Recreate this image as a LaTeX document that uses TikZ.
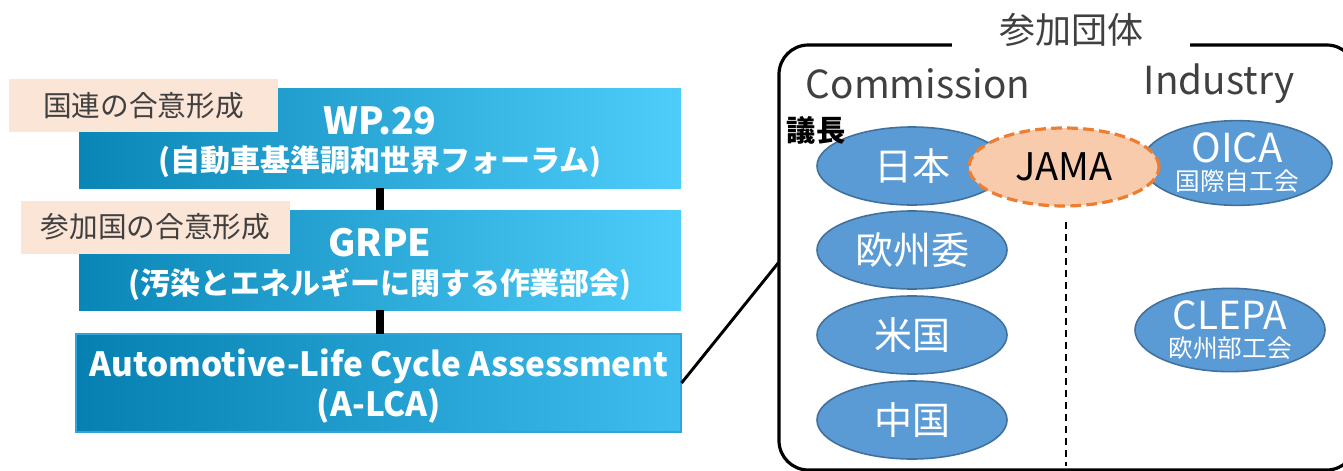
\documentclass[tikz,border=0pt]{standalone}
\usepackage{fontspec}
\setmainfont{Noto Sans CJK JP}
\usetikzlibrary{shapes.geometric}
\definecolor{peach}{HTML}{FBE5D6}
\definecolor{dgray}{HTML}{404040}
\definecolor{ellfill}{HTML}{5B9BD5}
\definecolor{elldraw}{HTML}{41719C}
\definecolor{jamafill}{HTML}{F8CBAD}
\definecolor{jamadraw}{HTML}{ED7D31}
\definecolor{boxL}{HTML}{0A86B6}
\definecolor{boxR}{HTML}{4ECDFA}
\definecolor{alcaL}{HTML}{0580B0}
\definecolor{alcaR}{HTML}{3EBDEE}
\definecolor{alcaB}{HTML}{2FA6DA}
\tikzset{
  bluebox/.style={rectangle, inner sep=0pt, minimum width=451.5pt, minimum height=75pt,
    left color=boxL, right color=boxR},
  boxtitle/.style={text=white, inner sep=0pt, font=\bfseries\fontsize{28}{30}\selectfont},
  boxsub/.style={text=white, inner sep=0pt, font=\bfseries\fontsize{22.5}{26}\selectfont},
  peachbox/.style={rectangle, inner sep=0pt, fill=peach, minimum width=201.75pt, minimum height=39.75pt,
    text=dgray, font=\fontsize{21.5}{25}\selectfont},
  blueell/.style={ellipse, inner sep=0pt, minimum width=142.5pt, minimum height=58.5pt,
    fill=ellfill, draw=elldraw, line width=1.2pt, text=white, align=center,
    font=\fontsize{28.5}{30}\selectfont},
  vlink/.style={line width=6.5pt},
}
\begin{document}
\begin{tikzpicture}[x=0.75pt,y=-0.75pt]
\useasboundingbox (0,0) rectangle (1343,471);
% left column
\node[bluebox] (wp) at (380,138) {};
\node[boxtitle] (wpA) at (380,121) {WP.29};
\node[boxsub] (wpB) at (380,162) {(自動車基準調和世界フォーラム)};
\node[bluebox] (grpe) at (380,260) {};
\node[boxtitle] (grpeA) at (380,243) {GRPE};
\node[boxsub] (grpeB) at (380,284) {(汚染とエネルギーに関する作業部会)};
\node[bluebox, minimum width=453.75pt, minimum height=73.5pt, left color=alcaL, right color=alcaR,
  draw=alcaB, line width=0.8pt] (alca) at (378.5,383) {};
\node[text=white, inner sep=0pt, font=\bfseries\fontsize{25}{28}\selectfont] (alcaA) at (379,366) {Automotive-Life Cycle Assessment};
\node[text=white, inner sep=0pt, font=\bfseries\fontsize{25}{28}\selectfont] (alcaB) at (379,406) {(A-LCA)};
\node[peachbox] (p1) at (143.5,105.5) {国連の合意形成};
\node[peachbox] (p2) at (155.5,227) {参加国の合意形成};
\coordinate (l1) at (380,188);
\coordinate (l2) at (380,210);
\coordinate (l3) at (380,310);
\coordinate (l4) at (380,334);
\draw[vlink] (l1) -- (l2);
\draw[vlink] (l3) -- (l4);
% right frame
\node[rectangle, draw=black, line width=2.4pt, rounded corners=22pt, minimum width=432.75pt, minimum height=318.75pt, inner sep=0pt] (frame) at (1067.5,257.5) {};
\node[rectangle, fill=white, minimum width=178.5pt, minimum height=30pt, inner sep=0pt, text=dgray,
  font=\fontsize{27}{30}\selectfont] (title) at (1071,30) {参加団体};
\coordinate (fl) at (779,262);
\draw[line width=2.2pt] (alca.east) -- (fl);
\node[text=dgray, font=\fontsize{29}{32}\selectfont] (comm) at (918,84) {Commission};
\node[text=dgray, font=\fontsize{29}{32}\selectfont] (ind) at (1219,84) {Industry};
\coordinate (d1) at (1066,222);
\coordinate (d2) at (1066,466);
\draw[line width=1.3pt, dash pattern=on 5pt off 4pt] (d1) -- (d2);
\node[blueell] (jp) at (912,166) {日本};
\node[blueell] (oica) at (1237,163) {{\fontsize{30}{32}\selectfont OICA}\\[-9pt]{\fontsize{18.5}{20}\selectfont 国際自工会}};
\node[blueell, fill=jamafill, draw=jamadraw, line width=2.4pt, dash pattern=on 8pt off 4pt, text=black] (jama) at (1064,167) {JAMA};
\node[font=\bfseries\fontsize{22}{24}\selectfont, text=black, inner sep=0pt] (chair) at (816,130) {議長};
\node[blueell] (eu) at (912,250) {欧州委};
\node[blueell] (us) at (912,335) {米国};
\node[blueell] (cn) at (912,420) {中国};
\node[blueell] (clepa) at (1230,330) {{\fontsize{29}{32}\selectfont CLEPA}\\[-9pt]{\fontsize{18.5}{20}\selectfont 欧州部工会}};
\end{tikzpicture}
\end{document}
